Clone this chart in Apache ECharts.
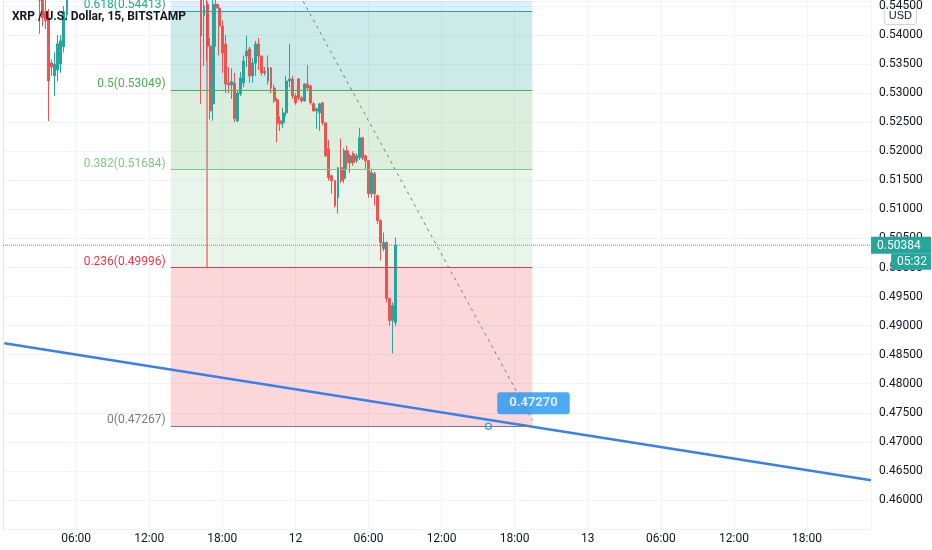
<!DOCTYPE html>
<html>
<head>
<meta charset="utf-8">
<title>XRP / U.S. Dollar</title>
<script src="https://cdn.jsdelivr.net/npm/echarts@6/dist/echarts.min.js"></script>
<style>html,body{margin:0;padding:0;background:#fff}#chart{width:932px;height:550px}</style>
</head>
<body>
<div id="chart"></div>
<script>
// hours since day 11 00:00, [open, close, low, high]
var candleHours = [3.0,3.25,3.5,3.75,4.0,4.25,4.5,4.75,5.0,5.25,
  16.25,16.5,16.75,17.0,17.25,17.5,17.75,18.0,18.25,18.5,18.75,19.0,19.25,19.5,19.75,
  20.0,20.25,20.5,20.75,21.0,21.25,21.5,21.75,22.0,22.25,22.5,22.75,23.0,23.25,23.5,23.75,
  24.0,24.25,24.5,24.75,25.0,25.25,25.5,25.75,26.0,26.25,26.5,26.75,27.0,27.25,27.5,27.75,
  28.0,28.25,28.5,28.75,29.0,29.25,29.5,29.75,30.0,30.25,30.5,30.75,31.0,31.25,31.5,31.75,32.0,32.25];
var ohlc = [
  [0.5500,0.5460,0.5402,0.5520],[0.5480,0.5430,0.5415,0.5510],[0.5440,0.5425,0.5410,0.5490],
  [0.5430,0.5321,0.5252,0.5445],[0.5352,0.5345,0.5330,0.5358],[0.5330,0.5350,0.5295,0.5370],
  [0.5340,0.5385,0.5320,0.5400],[0.5350,0.5390,0.5335,0.5400],[0.5380,0.5440,0.5370,0.5450],
  [0.5435,0.5470,0.5425,0.5490],
  [0.5480,0.53983,0.52816,0.5500],[0.54326,0.54498,0.53468,0.5470],[0.54532,0.53811,0.53554,0.5470],
  [0.53811,0.52695,0.52550,0.53950],[0.52816,0.54532,0.52524,0.5470],[0.54532,0.54464,0.53800,0.5470],
  [0.54464,0.54155,0.53650,0.54532],[0.54155,0.53691,0.53350,0.54250],[0.53846,0.53159,0.53004,0.54000],
  [0.53176,0.53142,0.53000,0.53450],[0.53142,0.53200,0.52900,0.53430],[0.53176,0.52558,0.52500,0.53350],
  [0.52524,0.53004,0.52500,0.53050],[0.52987,0.53262,0.52950,0.53360],[0.53176,0.53554,0.53100,0.53650],
  [0.53640,0.53726,0.53450,0.53990],[0.53760,0.53296,0.53180,0.53800],[0.53296,0.53520,0.53180,0.53600],
  [0.53520,0.53846,0.53300,0.53900],[0.53846,0.53640,0.53400,0.53950],[0.53640,0.53348,0.53300,0.53650],
  [0.53382,0.53348,0.53300,0.53450],[0.53211,0.53434,0.53150,0.53650],[0.53434,0.53090,0.53000,0.53450],
  [0.53090,0.52867,0.52830,0.53150],[0.52884,0.52472,0.52150,0.52920],[0.52524,0.52472,0.52350,0.52600],
  [0.52489,0.52661,0.52400,0.52750],[0.52661,0.53211,0.52600,0.53300],[0.53211,0.53245,0.53100,0.53850],
  [0.53245,0.52953,0.52900,0.53300],[0.52953,0.52833,0.52800,0.53000],
  [0.53245,0.52919,0.52884,0.53262],[0.52919,0.52867,0.52833,0.52953],[0.52867,0.53159,0.52850,0.53176],
  [0.53159,0.53090,0.53050,0.53485],[0.53125,0.52833,0.52800,0.53142],[0.52816,0.52695,0.52680,0.52850],
  [0.52695,0.52730,0.52386,0.52750],[0.52661,0.52816,0.52352,0.52833],[0.52833,0.52489,0.52450,0.52850],
  [0.52489,0.51923,0.51900,0.52500],[0.52043,0.51545,0.51493,0.52200],[0.51579,0.51493,0.51270,0.51600],
  [0.51493,0.51064,0.51030,0.51510],[0.51202,0.51716,0.50927,0.51730],[0.51716,0.51493,0.51450,0.52215],
  [0.51528,0.52009,0.51450,0.52050],[0.52009,0.51802,0.51700,0.52100],[0.51802,0.51923,0.51631,0.51960],
  [0.51957,0.51802,0.51750,0.52000],[0.51837,0.51923,0.51800,0.51960],[0.51888,0.52232,0.51850,0.52403],
  [0.52232,0.51888,0.51850,0.52250],[0.51923,0.51837,0.51700,0.51940],[0.51837,0.51270,0.51200,0.51850],
  [0.51270,0.51631,0.51200,0.51700],[0.51614,0.51270,0.51064,0.51650],[0.51236,0.50807,0.50750,0.51250],
  [0.50807,0.50429,0.50120,0.50830],[0.50326,0.50429,0.50280,0.50601],[0.50429,0.49467,0.49400,0.50450],
  [0.49467,0.49090,0.49000,0.49480],[0.49090,0.49347,0.48523,0.49400],[0.49055,0.50384,0.49000,0.50515]
];
var lastPrice = 0.50384;
var yMin = 0.455, yMax = 0.54584;
var fibLevels = [0.54413, 0.53049, 0.51684, 0.49996, 0.47267];
var fibRatios = ['0.618', '0.5', '0.382', '0.236', '0'];
var fibColors = ['#22ab94', '#4caf50', '#81c784', '#f23645', '#787b86'];
var fibFills = ['rgba(0,150,136,0.2)', 'rgba(76,175,80,0.2)', 'rgba(76,175,80,0.12)', 'rgba(242,54,69,0.2)'];
var fibStart = 13.77, fibEnd = 43.45;
var fibAnchorHour = 16.75;
var dashedLine = [[24.64, 0.5458], [43.45, 0.47373]];
var trendLine = [[0.11, 0.48695], [71.25, 0.46339]];
var markerPoint = [39.85, 0.47270];

var chart = echarts.init(document.getElementById('chart'));
var data = candleHours.map(function (h, i) { return [h].concat(ohlc[i]); });

var areas = [[{ xAxis: fibStart, yAxis: yMax, itemStyle: { color: 'rgba(33,150,243,0.15)' } }, { xAxis: fibEnd, yAxis: fibLevels[0] }]];
for (var i = 0; i < 4; i++) {
  areas.push([{ xAxis: fibStart, yAxis: fibLevels[i], itemStyle: { color: fibFills[i] } }, { xAxis: fibEnd, yAxis: fibLevels[i + 1] }]);
}
var fibLines = fibLevels.map(function (v, i) {
  return [{ coord: [fibStart, v], lineStyle: { color: fibColors[i], width: 1, type: 'solid' },
    label: { show: true, position: 'start', formatter: fibRatios[i] + '(' + v.toFixed(5) + ')', color: fibColors[i], fontSize: 12, offset: [0, -6], distance: 5 } },
    { coord: [fibEnd, v] }];
});

chart.setOption({
  animation: false,
  textStyle: { fontFamily: 'Roboto, "Noto Sans", sans-serif' },
  title: { text: 'XRP / U.S. Dollar, 15, BITSTAMP', left: 7, top: 6, textStyle: { fontSize: 12, fontWeight: 'bold', color: '#131722' } },
  grid: { left: -1.35, right: 61, top: 0, bottom: 21 },
  xAxis: {
    type: 'value', min: 0, max: 71.25, interval: 6,
    axisLine: { show: false }, axisTick: { show: false },
    splitLine: { lineStyle: { color: '#f0f3fa' } },
    axisLabel: { color: '#131722', fontSize: 12, margin: 4,
      formatter: function (v) {
        if (v <= 0 || v > 71) return '';
        var h = v % 24;
        if (h === 0) return String(11 + v / 24);
        return (h < 10 ? '0' : '') + h + ':00';
      } }
  },
  yAxis: {
    type: 'value', position: 'right', min: yMin, max: yMax, interval: 0.005,
    axisLine: { show: true, lineStyle: { color: '#e0e3eb' } }, axisTick: { show: false },
    splitLine: { lineStyle: { color: '#f0f3fa' } },
    axisLabel: { color: '#131722', fontSize: 12, margin: 8,
      formatter: function (v) { return (v < 0.4575 || v > 0.5455) ? '' : v.toFixed(5); } }
  },
  series: [
    { type: 'line', data: [], silent: true,
      markArea: { silent: true, data: areas },
      markLine: { silent: true, symbol: 'none', data: fibLines } },
    { type: 'line', data: [[fibAnchorHour, yMax], [fibAnchorHour, fibLevels[3]]], symbol: 'none', silent: true,
      lineStyle: { color: '#f23645', width: 1 } },
    { type: 'candlestick', data: data, barWidth: 2.4,
      itemStyle: { color: '#26a69a', color0: '#ef5350', borderColor: '#26a69a', borderColor0: '#ef5350', borderWidth: 1 } },
    { type: 'line', data: [[0, lastPrice], [71.25, lastPrice]], symbol: 'none', silent: true,
      lineStyle: { color: '#26a69a', type: 'dotted', width: 1 },
      endLabel: { show: true, distance: 0, offset: [0, 8], formatter: '{a|' + lastPrice.toFixed(5) + '}\n{b|05:32}',
        rich: { a: { backgroundColor: '#26a69a', color: '#fff', fontSize: 12, padding: [3, 4, 2, 6], width: 50, align: 'left' },
                b: { backgroundColor: '#26a69a', color: '#fff', fontSize: 12, padding: [2, 4, 2, 6], align: 'right' } } } },
    { type: 'line', data: dashedLine, symbol: 'none', silent: true, lineStyle: { color: '#787b86', width: 1, type: [3, 4] } },
    { type: 'line', data: trendLine, symbol: 'none', silent: true, lineStyle: { color: '#3a80e8', width: 2.5 } },
    { type: 'scatter', data: [markerPoint], symbol: 'circle', symbolSize: 6, silent: true,
      itemStyle: { color: '#fff', borderColor: '#2196f3', borderWidth: 1.5 },
      label: { show: true, position: 'right', formatter: markerPoint[1].toFixed(5), offset: [0, -23],
        backgroundColor: '#2196f3', color: '#fff', fontSize: 13, fontWeight: 'bold', padding: [5, 12, 4, 12], borderRadius: 3 } }
  ],
  graphic: [{ type: 'text', right: 15, top: 6, style: { text: 'USD', fill: '#131722', fontSize: 11, backgroundColor: '#fff', borderColor: '#d1d4dc', borderWidth: 1, borderRadius: 3, padding: [3, 4] } }]
});
</script>
</body>
</html>
